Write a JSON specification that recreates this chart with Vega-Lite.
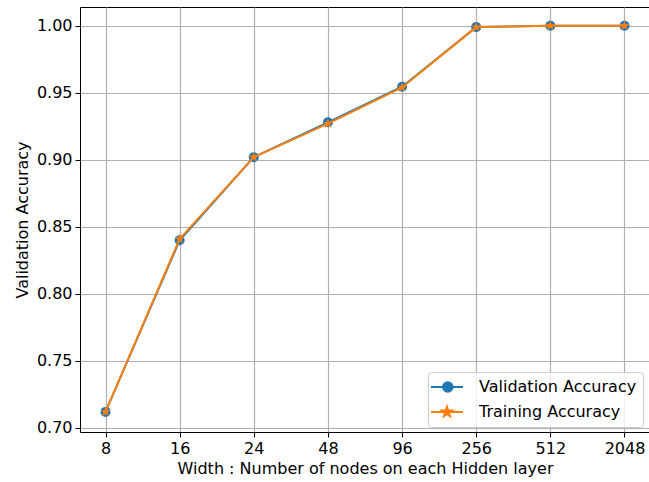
{
  "$schema": "https://vega.github.io/schema/vega-lite/v6.json",
  "width": 570,
  "height": 425,
  "autosize": {"type": "none"},
  "padding": {"left": 80, "top": 7, "right": 0, "bottom": 50},
  "background": "white",
  "config": {
    "font": "DejaVu Sans",
    "view": {"stroke": "black", "strokeWidth": 1},
    "axis": {
      "labelFont": "DejaVu Sans",
      "titleFont": "DejaVu Sans",
      "labelFontSize": 16,
      "titleFontSize": 16,
      "titleFontWeight": "normal",
      "labelColor": "black",
      "titleColor": "black",
      "tickColor": "black",
      "domainColor": "black",
      "tickSize": 5,
      "labelPadding": 3,
      "gridColor": "#b0b0b0",
      "gridWidth": 1.2,
      "gridOpacity": 1
    },
    "legend": {
      "labelFont": "DejaVu Sans",
      "labelFontSize": 16,
      "labelColor": "black"
    }
  },
  "data": {
    "values": [
      {"w": "8", "series": "Validation Accuracy", "acc": 0.712},
      {"w": "16", "series": "Validation Accuracy", "acc": 0.840},
      {"w": "24", "series": "Validation Accuracy", "acc": 0.902},
      {"w": "48", "series": "Validation Accuracy", "acc": 0.928},
      {"w": "96", "series": "Validation Accuracy", "acc": 0.9545},
      {"w": "256", "series": "Validation Accuracy", "acc": 0.999},
      {"w": "512", "series": "Validation Accuracy", "acc": 1.0},
      {"w": "2048", "series": "Validation Accuracy", "acc": 1.0},
      {"w": "8", "series": "Training Accuracy", "acc": 0.712},
      {"w": "16", "series": "Training Accuracy", "acc": 0.841},
      {"w": "24", "series": "Training Accuracy", "acc": 0.902},
      {"w": "48", "series": "Training Accuracy", "acc": 0.927},
      {"w": "96", "series": "Training Accuracy", "acc": 0.954},
      {"w": "256", "series": "Training Accuracy", "acc": 0.999},
      {"w": "512", "series": "Training Accuracy", "acc": 1.0},
      {"w": "2048", "series": "Training Accuracy", "acc": 1.0}
    ]
  },
  "encoding": {
    "x": {
      "field": "w",
      "type": "ordinal",
      "sort": ["8", "16", "24", "48", "96", "256", "512", "2048"],
      "scale": {"type": "point", "padding": 0.344},
      "axis": {"labelAngle": 0, "grid": true, "title": "Width : Number of nodes on each Hidden layer", "titlePadding": 4, "domain": false}
    },
    "y": {
      "field": "acc",
      "type": "quantitative",
      "scale": {"domain": [0.697, 1.014], "nice": false, "zero": false},
      "axis": {"values": [0.70, 0.75, 0.80, 0.85, 0.90, 0.95, 1.00], "format": ".2f", "title": "Validation Accuracy", "titlePadding": 6, "domain": false}
    },
    "color": {
      "field": "series",
      "type": "nominal",
      "scale": {"domain": ["Validation Accuracy", "Training Accuracy"], "range": ["#1f77b4", "#ff7f0e"]},
      "legend": {
        "title": null,
        "orient": "none",
        "legendX": 348,
        "legendY": 365,
        "fillColor": "rgba(255,255,255,0.8)",
        "strokeColor": "#cccccc",
        "cornerRadius": 3,
        "padding": 6,
        "symbolSize": 256,
        "labelOffset": 27,
        "rowPadding": 6,
        "encode": {
          "symbols": {
            "update": {
              "shape": {"signal": "datum.value === 'Validation Accuracy' ? 'M-1.5,0H2.5M0,0A0.6,0.6 0 1,0 1.2,0A0.6,0.6 0 1,0 0,0Z' : 'M-1.5,0H2.5M0.5,-0.65L0.646,-0.2L1.118,-0.2L0.736,0.077L0.882,0.526L0.5,0.248L0.118,0.526L0.264,0.077L-0.118,-0.2L0.354,-0.2Z'"},
              "size": {"value": 256},
              "stroke": {"scale": "color", "field": "value"},
              "fill": {"scale": "color", "field": "value"},
              "strokeWidth": {"value": 2},
              "opacity": {"value": 1},
              "fillOpacity": {"value": 1}
            }
          }
        }
      }
    }
  },
  "layer": [
    {
      "transform": [{"filter": "datum.series === 'Validation Accuracy'"}],
      "mark": {"type": "line", "strokeWidth": 2}
    },
    {
      "transform": [{"filter": "datum.series === 'Validation Accuracy'"}],
      "mark": {"type": "point", "shape": "circle", "filled": true, "opacity": 1, "size": 100}
    },
    {
      "transform": [{"filter": "datum.series === 'Training Accuracy'"}],
      "mark": {"type": "line", "strokeWidth": 2}
    },
    {
      "transform": [{"filter": "datum.series === 'Training Accuracy'"}],
      "mark": {"type": "point", "shape": "M0,-1L0.2245,-0.309L0.951,-0.309L0.363,0.118L0.588,0.809L0,0.382L-0.588,0.809L-0.363,0.118L-0.951,-0.309L-0.2245,-0.309Z", "filled": true, "opacity": 1, "size": 120}
    }
  ]
}
